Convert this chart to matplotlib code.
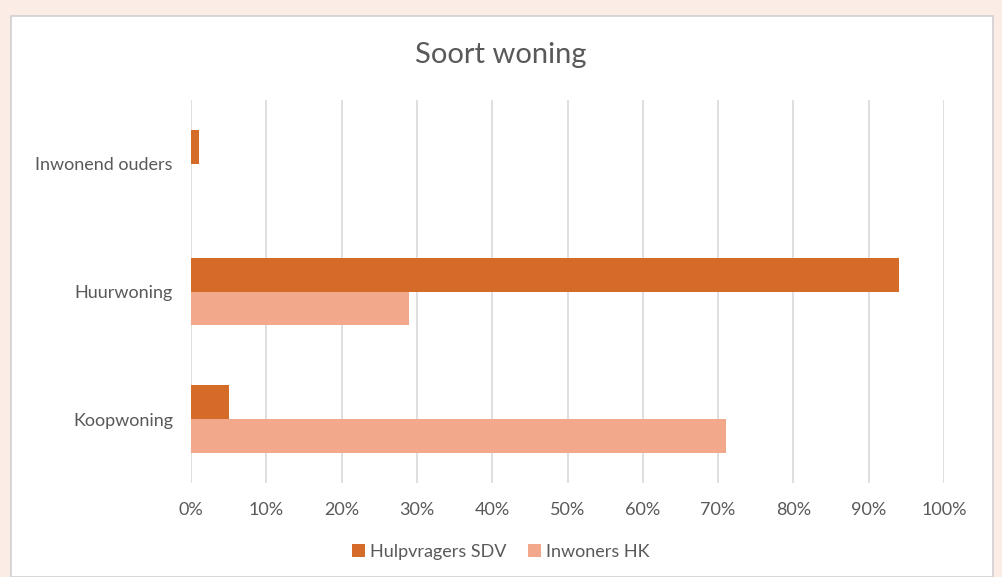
import numpy as np
from matplotlib import pyplot as plt
from matplotlib.patches import Rectangle
from matplotlib.ticker import PercentFormatter

# data
categories = ["Koopwoning", "Huurwoning", "Inwonend ouders"]
sdvValues = [5, 94, 1]      # Hulpvragers SDV
hkValues = [71, 29, 0]      # Inwoners HK
xTicks = [0, 10, 20, 30, 40, 50, 60, 70, 80, 90, 100]

darkOrange = "#d46b29"
lightSalmon = "#f2a98b"
textGrey = "#595959"

plt.rcParams['font.family'] = ['Lato', 'DejaVu Sans']

fig = plt.figure(figsize=(10.02, 5.77), dpi=100)
fig.patch.set_facecolor("#fbece6")

# white chart panel with thin border
panel = Rectangle((11 / 1002, 0), 982 / 1002, 1 - 16 / 577, transform=fig.transFigure,
                  facecolor="white", edgecolor="#d0d0d0", linewidth=1.2, zorder=-5)
fig.patches.append(panel)

ax = fig.add_axes([191 / 1002, 1 - 483 / 577, 753 / 1002, 383 / 577])
ax.set_facecolor("none")

y = np.arange(len(categories))
barH = 0.266
ax.barh(y + barH / 2, sdvValues, height=barH, color=darkOrange, label="Hulpvragers SDV", zorder=3)
ax.barh(y - barH / 2, hkValues, height=barH, color=lightSalmon, label="Inwoners HK", zorder=3)

ax.set_xlim(0, 100)
ax.set_ylim(-0.5, 2.5)
ax.set_xticks(xTicks)
ax.xaxis.set_major_formatter(PercentFormatter(decimals=0))
ax.set_yticks(y)
ax.set_yticklabels(categories)
ax.tick_params(axis="both", length=0, labelsize=13, colors=textGrey)
ax.tick_params(axis="x", pad=14)
ax.tick_params(axis="y", pad=13)
ax.grid(axis="x", color="#d9d9d9", linewidth=1.2, zorder=0)
for s in ax.spines.values():
    s.set_visible(False)

fig.text(0.5, 1 - 55 / 577, "Soort woning", ha="center", va="center", fontsize=21, color=textGrey)

fig.legend(loc="center", bbox_to_anchor=(0.5, 1 - 552 / 577), ncol=2, frameon=False,
           fontsize=13, labelcolor=textGrey, handlelength=0.7, handleheight=0.7,
           handletextpad=0.3, columnspacing=1.2)

fig.savefig("out.png", dpi=100, facecolor=fig.get_facecolor())
